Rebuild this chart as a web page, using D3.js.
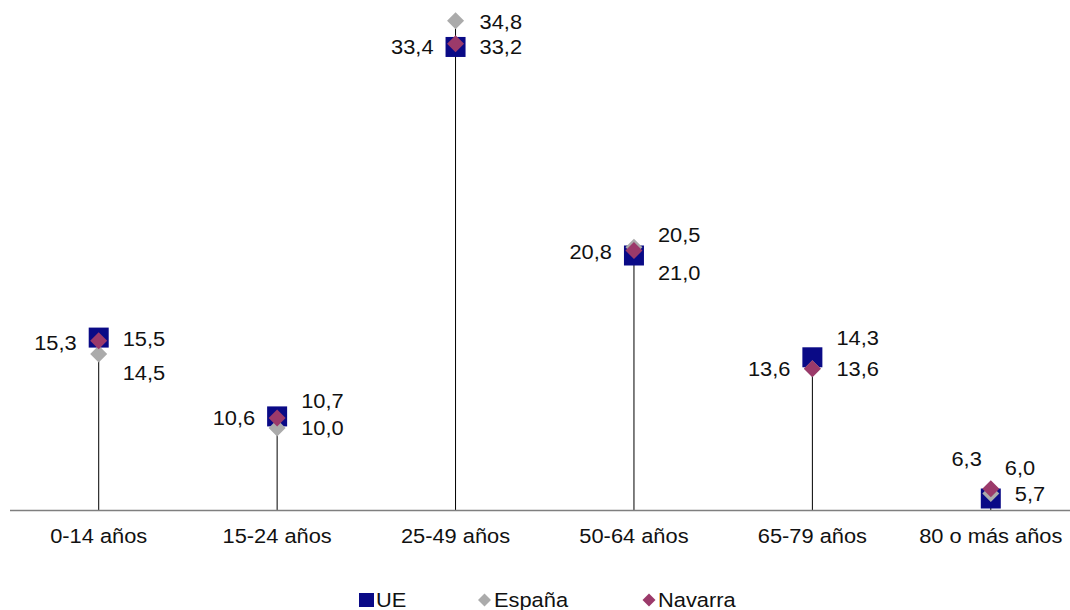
<!DOCTYPE html>
<html><head><meta charset="utf-8">
<script src="https://cdn.jsdelivr.net/npm/d3@7"></script>
<style>body{margin:0;background:#fff}</style>
</head><body>
<svg id="c" width="1070" height="610"></svg>
<script>
// ---- data ----
const categories = ["0-14 años","15-24 años","25-49 años","50-64 años","65-79 años","80 o más años"];
const ueValues      = [15.5, 10.7, 33.2, 20.5, 14.3, 5.7];
const espanaValues  = [14.5, 10.0, 34.8, 21.0, 13.6, 6.0];
const navarraValues = [15.3, 10.6, 33.4, 20.8, 13.6, 6.3];
const seriesNames   = ["UE", "España", "Navarra"];
const yDomain = [5, 35];

// ---- layout (label nudges in px, [dx, dy]) ----
const nudgeUE      = [[0,1],[0,-15],[0,0],[0,-20],[0,-19],[0,-5]];
const nudgeEspana  = [[0,19],[0,0],[0,1],[0,26],[0,0],[-10,-26]];
const nudgeNavarra = [[0,2],[0,0],[0,3],[0,1],[0,0],[13,-30]];

const colors = {UE:"#0a0a86", "España":"#ababab", Navarra:"#9b3a6a"};
const svg = d3.select("#c");
const x = d3.scalePoint().domain(categories).range([9.5, 1080]).padding(0.5);
const y = d3.scaleLinear().domain(yDomain).range([510, 17.4]);
const fmt = v => d3.format(".1f")(v).replace(".", ",");
const SX = 1.12;
const font = "'Liberation Sans', Arial, sans-serif";

function txt(g, tx, ty, s, anchor, size){
  g.append("g").attr("transform", `translate(${tx},${ty}) scale(${SX},1)`)
   .append("text").attr("x",0).attr("y",0).attr("text-anchor",anchor)
   .attr("font-family",font).attr("font-size",size).attr("fill","#111").text(s);
}

const series = [
  {name:"UE", values:ueValues, nudge:nudgeUE, side:"right"},
  {name:"España", values:espanaValues, nudge:nudgeEspana, side:"right"},
  {name:"Navarra", values:navarraValues, nudge:nudgeNavarra, side:"left"}
];

// drop lines
const gl = svg.append("g");
categories.forEach((c,i)=>{
  const top = d3.max(series, s=>s.values[i]);
  gl.append("line").attr("x1",x(c)).attr("x2",x(c)).attr("y1",y(top)).attr("y2",y(yDomain[0]))
    .attr("stroke","#000").attr("stroke-width",1);
});

// axis
const axis = svg.append("g").attr("transform",`translate(0,${y(yDomain[0])})`)
  .call(d3.axisBottom(x).tickSize(0).tickFormat(""));
axis.select(".domain").remove();
svg.append("line").attr("x1",10).attr("x2",1070).attr("y1",y(yDomain[0])+0.5).attr("y2",y(yDomain[0])+0.5)
  .attr("stroke","#7f7f7f").attr("stroke-width",1.5);
categories.forEach(c=> txt(svg, x(c), 542.5, c, "middle", 19.5));

// markers
const diamond = (cx,cy,r)=>`M${cx},${cy-r}L${cx+r},${cy}L${cx},${cy+r}L${cx-r},${cy}Z`;
const gm = svg.append("g");
categories.forEach((c,i)=>{
  gm.append("rect").attr("x",x(c)-10).attr("y",y(ueValues[i])-10).attr("width",20).attr("height",20)
    .attr("fill",colors.UE);
});
categories.forEach((c,i)=>{
  gm.append("path").attr("d",diamond(x(c),y(espanaValues[i]),8.5)).attr("fill",colors["España"]);
});
categories.forEach((c,i)=>{
  gm.append("path").attr("d",diamond(x(c),y(navarraValues[i]),8.5)).attr("fill",colors.Navarra);
});

// labels
series.forEach(s=>{
  s.values.forEach((v,i)=>{
    const cx = x(categories[i]);
    const [dx,dy] = s.nudge[i];
    const lx = s.side==="right" ? cx+24+dx : cx-22+dx;
    txt(svg, lx, y(v)+dy+7, fmt(v), s.side==="right"?"start":"end", 19.5);
  });
});

// legend
const lg = svg.append("g");
lg.append("rect").attr("x",359).attr("y",593).attr("width",15).attr("height",14).attr("fill",colors.UE);
txt(lg, 376, 607, seriesNames[0], "start", 19.5);
lg.append("path").attr("d",diamond(484.5,600,6.5)).attr("fill",colors["España"]);
txt(lg, 494, 607, seriesNames[1], "start", 19.5);
lg.append("path").attr("d",diamond(649,600,6.5)).attr("fill",colors.Navarra);
txt(lg, 658, 607, seriesNames[2], "start", 19.5);
</script>
</body></html>
